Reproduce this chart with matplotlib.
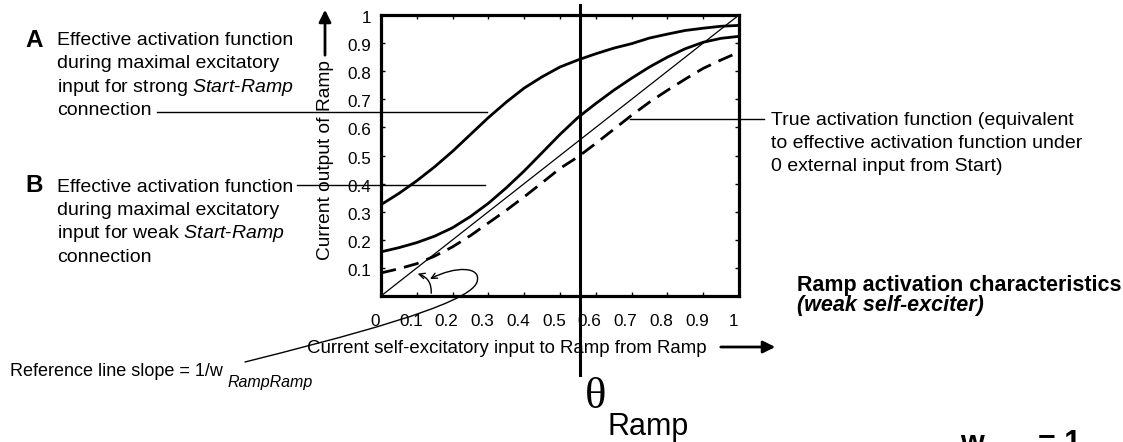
import matplotlib.pyplot as plt
from matplotlib.lines import Line2D
from matplotlib.patches import FancyArrowPatch
from matplotlib.path import Path
from matplotlib.transforms import Affine2D, ScaledTranslation

plt.rcParams['font.family'] = ['Liberation Sans', 'DejaVu Sans']
plt.rcParams['mathtext.fontset'] = 'custom'
plt.rcParams['mathtext.rm'] = 'Liberation Sans'
plt.rcParams['mathtext.it'] = 'Liberation Sans:italic'

W, H = 1123, 442

# Self-excitatory input (x) and Ramp output for each curve
x_in = [0.0, 0.05, 0.1, 0.15, 0.2, 0.25, 0.3, 0.35, 0.4, 0.45, 0.5,
        0.55, 0.6, 0.65, 0.7, 0.75, 0.8, 0.85, 0.9, 0.95, 1.0]
strong_start = [0.325, 0.365, 0.41, 0.46, 0.515, 0.575, 0.635, 0.69, 0.74, 0.78, 0.815,
                0.84, 0.862, 0.882, 0.898, 0.918, 0.932, 0.945, 0.953, 0.96, 0.963]
weak_start = [0.157, 0.172, 0.19, 0.213, 0.243, 0.283, 0.33, 0.385, 0.445, 0.51, 0.575,
              0.635, 0.685, 0.732, 0.775, 0.815, 0.85, 0.88, 0.903, 0.917, 0.924]
true_act = [0.082, 0.097, 0.115, 0.142, 0.175, 0.215, 0.26, 0.305, 0.353, 0.403, 0.454,
            0.495, 0.543, 0.593, 0.643, 0.69, 0.732, 0.772, 0.81, 0.84, 0.868]
ref_x = [0.0, 1.0]
ref_y = [0.0, 1.0]
theta_ramp = 0.556

x_ticks = [0, 0.1, 0.2, 0.3, 0.4, 0.5, 0.6, 0.7, 0.8, 0.9, 1.0]
x_labels = ['0', '0.1', '0.2', '0.3', '0.4', '0.5', '0.6', '0.7', '0.8', '0.9', '1']
y_ticks = [0.1, 0.2, 0.3, 0.4, 0.5, 0.6, 0.7, 0.8, 0.9, 1.0]
y_labels = ['0.1', '0.2', '0.3', '0.4', '0.5', '0.6', '0.7', '0.8', '0.9', '1']

fig = plt.figure(figsize=(W / 100, H / 100), dpi=100)
ax = fig.add_axes([381 / W, 1 - 296 / H, 358 / W, 281 / H])
# pixel coords measured from the top-left of the image
pix = Affine2D().scale(1 / W, -1 / H).translate(0, 1) + fig.transFigure

ax.plot(x_in, strong_start, color='k', lw=2)
ax.plot(x_in, weak_start, color='k', lw=2)
ax.plot(x_in, true_act, color='k', lw=2, linestyle=(0, (5.5, 3)))
ax.plot(ref_x, ref_y, color='k', lw=0.9)
ax.plot([theta_ramp, theta_ramp], [-0.281, 1.036], color='k', lw=2.2, clip_on=False)

ax.set_xlim(0, 1)
ax.set_ylim(0, 1)
ax.set_xticks(x_ticks)
ax.set_xticklabels(x_labels)
ax.set_yticks(y_ticks)
ax.set_yticklabels(y_labels)
ax.tick_params(direction='in', length=3, width=1, labelsize=12.3,
               top=True, right=True)
ax.tick_params(axis='x', pad=13)
ax.tick_params(axis='y', pad=7)
for sp in ax.spines.values():
    sp.set_linewidth(2.3)
# x labels sit a little left of their ticks in the original
shift = ScaledTranslation(-6 / 100, 0, fig.dpi_scale_trans)
for lab in ax.get_xticklabels():
    lab.set_transform(lab.get_transform() + shift)
shift_y = ScaledTranslation(0, -2 / 100, fig.dpi_scale_trans)
for lab in ax.get_yticklabels():
    lab.set_transform(lab.get_transform() + shift_y)

def put(x, y, s, **kw):
    fig.text(x, y, s, transform=pix, va='baseline', **kw)

def hline(x0, x1, y):
    fig.add_artist(Line2D([x0, x1], [y, y], transform=pix, color='k', lw=1))

def arrow(p0, p1, **kw):
    fig.add_artist(FancyArrowPatch(p0, p1, transform=pix, color='k', **kw))

# axis labels with arrows
fig.text(325, 160, 'Current output of Ramp', transform=pix, rotation=90,
         ha='center', va='center', fontsize=13.8)
arrow((325, 58), (325, 7), arrowstyle='-|>', mutation_scale=18, lw=2)
put(307, 353, 'Current self-excitatory input to Ramp from Ramp', fontsize=13.4)
arrow((718, 347), (778, 347), arrowstyle='-|>', mutation_scale=18, lw=2)

# A / B descriptions
put(25, 47, 'A', fontsize=17.5, fontweight='bold')
a_lines = ['Effective activation function', 'during maximal excitatory',
           'input for strong $\\mathit{Start}$-$\\mathit{Ramp}$', 'connection']
for i, s in enumerate(a_lines):
    put(57, 45 + 23.3 * i, s, fontsize=14)
hline(157, 487, 112)

put(25, 192, 'B', fontsize=17.5, fontweight='bold')
b_lines = ['Effective activation function', 'during maximal excitatory',
           'input for weak $\\mathit{Start}$-$\\mathit{Ramp}$', 'connection']
for i, s in enumerate(b_lines):
    put(57, 191.7 + 23.3 * i, s, fontsize=14)
hline(297, 485, 185)

# true activation description
t_lines = ['True activation function (equivalent',
           'to effective activation function under',
           '0 external input from Start)']
for i, s in enumerate(t_lines):
    put(771, 125 + 23 * i, s, fontsize=14)
hline(630, 764, 119)

# reference line slope note
put(10, 376.5, 'Reference line slope = 1/w', fontsize=13)
put(228, 386.5, 'RampRamp', fontsize=11.5, style='italic')
arrow((431, 296), (415, 273), arrowstyle='->', mutation_scale=10, lw=1,
      connectionstyle='arc3,rad=0.45')
loop = Path([(245, 362), (340, 338), (470, 305), (477, 282),
             (482, 266), (455, 266), (430, 279)],
            [Path.MOVETO, Path.CURVE4, Path.CURVE4, Path.CURVE4,
             Path.CURVE4, Path.CURVE4, Path.CURVE4])
fig.add_artist(FancyArrowPatch(path=loop, transform=pix, arrowstyle='->',
                               mutation_scale=10, lw=1, color='k'))

# theta label
put(585, 408, '\u03b8', fontsize=32, family='Liberation Serif')
put(608, 435, 'Ramp', fontsize=22)

# caption on the right (bottom line is cut by the image edge in the original)
put(797, 290.5, 'Ramp activation characteristics', fontsize=15.5, fontweight='bold')
put(797, 311, '(weak self-exciter)', fontsize=15.5, fontweight='bold', style='italic')
put(960, 452, 'w', fontsize=22, fontweight='bold')
put(1038, 452, '= 1', fontsize=22, fontweight='bold')

plt.savefig('out.png', dpi=100)
